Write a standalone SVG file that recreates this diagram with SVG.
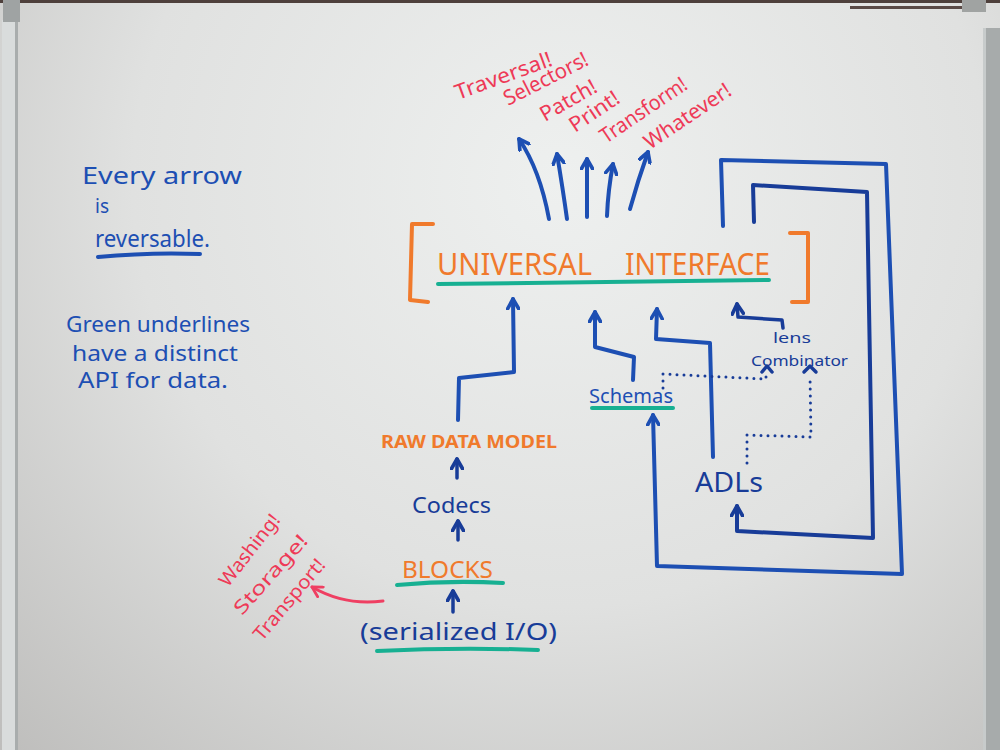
<svg xmlns="http://www.w3.org/2000/svg" width="1000" height="750" viewBox="0 0 1000 750">
  <defs>
    <radialGradient id="board" cx="560" cy="180" r="950" gradientUnits="userSpaceOnUse">
      <stop offset="0" stop-color="#eef0ef"/>
      <stop offset="0.45" stop-color="#e0e1e0"/>
      <stop offset="1" stop-color="#b0afad"/>
    </radialGradient>
    <marker id="ahB" viewBox="0 0 10 10" refX="8" refY="5" markerUnits="userSpaceOnUse" markerWidth="14" markerHeight="14" orient="auto">
      <path d="M1,1 L8,5 L1,9" fill="none" stroke="#1d4fb3" stroke-width="2.6" stroke-linecap="round" stroke-linejoin="round"/>
    </marker>
    <marker id="ahN" viewBox="0 0 10 10" refX="8" refY="5" markerUnits="userSpaceOnUse" markerWidth="14" markerHeight="14" orient="auto">
      <path d="M1,1 L8,5 L1,9" fill="none" stroke="#183c98" stroke-width="2.6" stroke-linecap="round" stroke-linejoin="round"/>
    </marker>
    <marker id="ahR" viewBox="0 0 10 10" refX="8" refY="5" markerUnits="userSpaceOnUse" markerWidth="14" markerHeight="14" orient="auto">
      <path d="M1,1 L8,5 L1,9" fill="none" stroke="#ef3f62" stroke-width="2" stroke-linecap="round" stroke-linejoin="round"/>
    </marker>
    <style>
      .hand { font-family: "Noto Sans", "DejaVu Sans", sans-serif; }
      .blue { fill: #1d4fb3; }
      .navy { fill: #183c98; }
      .orange { fill: #f07a2c; }
      .red { fill: #ee3a57; }
      .ln { fill: none; stroke: #1d4fb3; stroke-width: 4; stroke-linecap: round; stroke-linejoin: round; }
      .lnN { fill: none; stroke: #183c98; stroke-width: 3.5; stroke-linecap: round; stroke-linejoin: round; }
      .dot { fill: none; stroke: #183c98; stroke-width: 3; stroke-linecap: round; stroke-dasharray: 0 7; }
      .green { fill: none; stroke: #17b092; stroke-width: 4; stroke-linecap: round; }
      .bracket { fill: none; stroke: #f07a2c; stroke-width: 4; stroke-linecap: round; stroke-linejoin: round; }
      .redln { fill: none; stroke: #ef3f62; stroke-width: 3; stroke-linecap: round; }
    </style>
  </defs>

  <!-- whiteboard -->
  <rect x="0" y="0" width="1000" height="750" fill="url(#board)"/>
  <rect x="0" y="0" width="1000" height="3" fill="#4e403c"/>
  <rect x="2" y="20" width="15" height="730" fill="#d9dcdc"/>
  <rect x="15" y="20" width="3" height="730" fill="#a9adad"/>
  <rect x="3" y="0" width="17" height="22" fill="#9fa3a3"/>
  <rect x="850" y="6" width="115" height="3" fill="#5a4a46"/>
  <rect x="962" y="0" width="24" height="12" fill="#a0a3a2"/>
  <rect x="985" y="28" width="15" height="722" fill="#a7abab"/>
  <rect x="983" y="28" width="3" height="722" fill="#c7cbcb"/>

  <!-- notes -->
  <g id="note-reversable" class="hand blue">
    <text x="82" y="184" font-size="23" textLength="160" lengthAdjust="spacingAndGlyphs">Every arrow</text>
    <text x="95" y="213" font-size="19">is</text>
    <text x="95" y="247" font-size="24" textLength="115" lengthAdjust="spacingAndGlyphs">reversable.</text>
    <path d="M98,257 Q150,252 200,254" fill="none" stroke="#1d4fb3" stroke-width="4" stroke-linecap="round"/>
  </g>
  <g id="note-green" class="hand blue">
    <text x="66" y="332" font-size="21" textLength="184" lengthAdjust="spacingAndGlyphs">Green underlines</text>
    <text x="72" y="361" font-size="21" textLength="166" lengthAdjust="spacingAndGlyphs">have a distinct</text>
    <text x="78" y="388" font-size="21" textLength="150" lengthAdjust="spacingAndGlyphs">API for data.</text>
  </g>

  <!-- operations -->
  <g id="operations" class="hand red" font-size="21">
    <text transform="translate(458,100) rotate(-20)" textLength="102" lengthAdjust="spacingAndGlyphs">Traversal!</text>
    <text transform="translate(508,106) rotate(-27)" textLength="92" lengthAdjust="spacingAndGlyphs">Selectors!</text>
    <text transform="translate(545,122) rotate(-30)" textLength="62" lengthAdjust="spacingAndGlyphs">Patch!</text>
    <text transform="translate(575,133) rotate(-34)" textLength="56" lengthAdjust="spacingAndGlyphs">Print!</text>
    <text transform="translate(606,144) rotate(-34)" textLength="100" lengthAdjust="spacingAndGlyphs">Transform!</text>
    <text transform="translate(650,150) rotate(-34)" textLength="100" lengthAdjust="spacingAndGlyphs">Whatever!</text>
  </g>

  <!-- Universal interface -->
  <g id="universal-interface">
    <path class="bracket" d="M433,224 L412,224 L410,300 L428,302"/>
    <path class="bracket" d="M790,233 L808,233 L808,302 L792,302"/>
    <text class="hand orange" x="437" y="275" font-size="30" textLength="155" lengthAdjust="spacingAndGlyphs">UNIVERSAL</text>
    <text class="hand orange" x="625" y="275" font-size="30" textLength="145" lengthAdjust="spacingAndGlyphs">INTERFACE</text>
    <path class="green" d="M438,284 Q600,282 769,280"/>
  </g>

  <g id="raw-data-model">
    <text class="hand orange" x="381" y="448" font-size="17" font-weight="bold" textLength="176" lengthAdjust="spacingAndGlyphs">RAW  DATA  MODEL</text>
  </g>
  <g id="codecs">
    <text class="hand navy" x="412" y="513" font-size="22" textLength="79" lengthAdjust="spacingAndGlyphs">Codecs</text>
  </g>
  <g id="blocks">
    <text class="hand orange" x="402" y="578" font-size="24" textLength="91" lengthAdjust="spacingAndGlyphs">BLOCKS</text>
    <path class="green" d="M397,585 Q450,580 503,583"/>
  </g>
  <g id="serialized-io">
    <text class="hand navy" x="360" y="640" font-size="24" textLength="197" lengthAdjust="spacingAndGlyphs">(serialized I/O)</text>
    <path class="green" d="M377,651 Q460,647 538,650"/>
  </g>
  <g id="storage-notes" class="hand red" font-size="19">
    <text transform="translate(228,588) rotate(-52)" textLength="86" lengthAdjust="spacingAndGlyphs">Washing!</text>
    <text transform="translate(242,616) rotate(-48)" textLength="100" lengthAdjust="spacingAndGlyphs">Storage!</text>
    <text transform="translate(262,642) rotate(-50)" textLength="100" lengthAdjust="spacingAndGlyphs">Transport!</text>
  </g>

  <g id="schemas">
    <text class="hand blue" x="589" y="403" font-size="19" textLength="84" lengthAdjust="spacingAndGlyphs">Schemas</text>
    <path class="green" d="M592,408 L673,408"/>
  </g>
  <g id="adls">
    <text class="hand navy" x="695" y="492" font-size="27" textLength="68" lengthAdjust="spacingAndGlyphs">ADLs</text>
  </g>
  <g id="lens-combinator" class="hand navy">
    <text x="773" y="343" font-size="15" textLength="38" lengthAdjust="spacingAndGlyphs">lens</text>
    <text x="751" y="366" font-size="15" textLength="97" lengthAdjust="spacingAndGlyphs">Combinator</text>
  </g>

  <!-- connectors -->
  <g id="connectors">
    <path class="ln" marker-end="url(#ahB)" d="M549,219 Q540,170 519,139"/>
    <path class="ln" marker-end="url(#ahB)" d="M567,219 Q563,190 557,154"/>
    <path class="ln" marker-end="url(#ahB)" d="M587,217 L587,159"/>
    <path class="ln" marker-end="url(#ahB)" d="M607,216 Q608,190 613,164"/>
    <path class="ln" marker-end="url(#ahB)" d="M630,209 Q638,180 648,152"/>

    <path class="ln" marker-end="url(#ahB)" d="M458,420 L459,378 L514,372 L513,299"/>
    <path class="lnN" marker-end="url(#ahN)" d="M457,478 L457,459"/>
    <path class="lnN" marker-end="url(#ahN)" d="M458,540 L458,521"/>
    <path class="lnN" marker-end="url(#ahN)" d="M453,612 L453,591"/>
    <path class="redln" marker-end="url(#ahR)" d="M383,601 Q345,606 312,587"/>

    <path class="ln" marker-end="url(#ahB)" d="M633,380 L634,357 L595,347 L595,312"/>
    <path class="ln" marker-end="url(#ahB)" d="M713,457 L710,343 L656,339 L657,309"/>
    <path class="lnN" marker-end="url(#ahN)" d="M783,328 L782,320 L738,317 L737,304"/>

    <path class="dot" d="M663,388 L663,374 L766,379 L766,375"/>
    <path class="lnN" stroke-width="2.5" d="M762,372 L767,366 L772,372"/>
    <path class="dot" d="M747,463 L747,435 L811,437 L810,376"/>
    <path class="lnN" stroke-width="2.5" d="M804,372 L810,366 L816,372"/>

    <path class="ln" marker-end="url(#ahB)" d="M723,226 L721,160 L886,164 L902,574 L657,566 L653,415"/>
    <path class="ln" marker-end="url(#ahN)" style="stroke:#183c98" d="M754,222 L753,185 L867,192 L873,538 L737,531 L737,506"/>
  </g>
</svg>
